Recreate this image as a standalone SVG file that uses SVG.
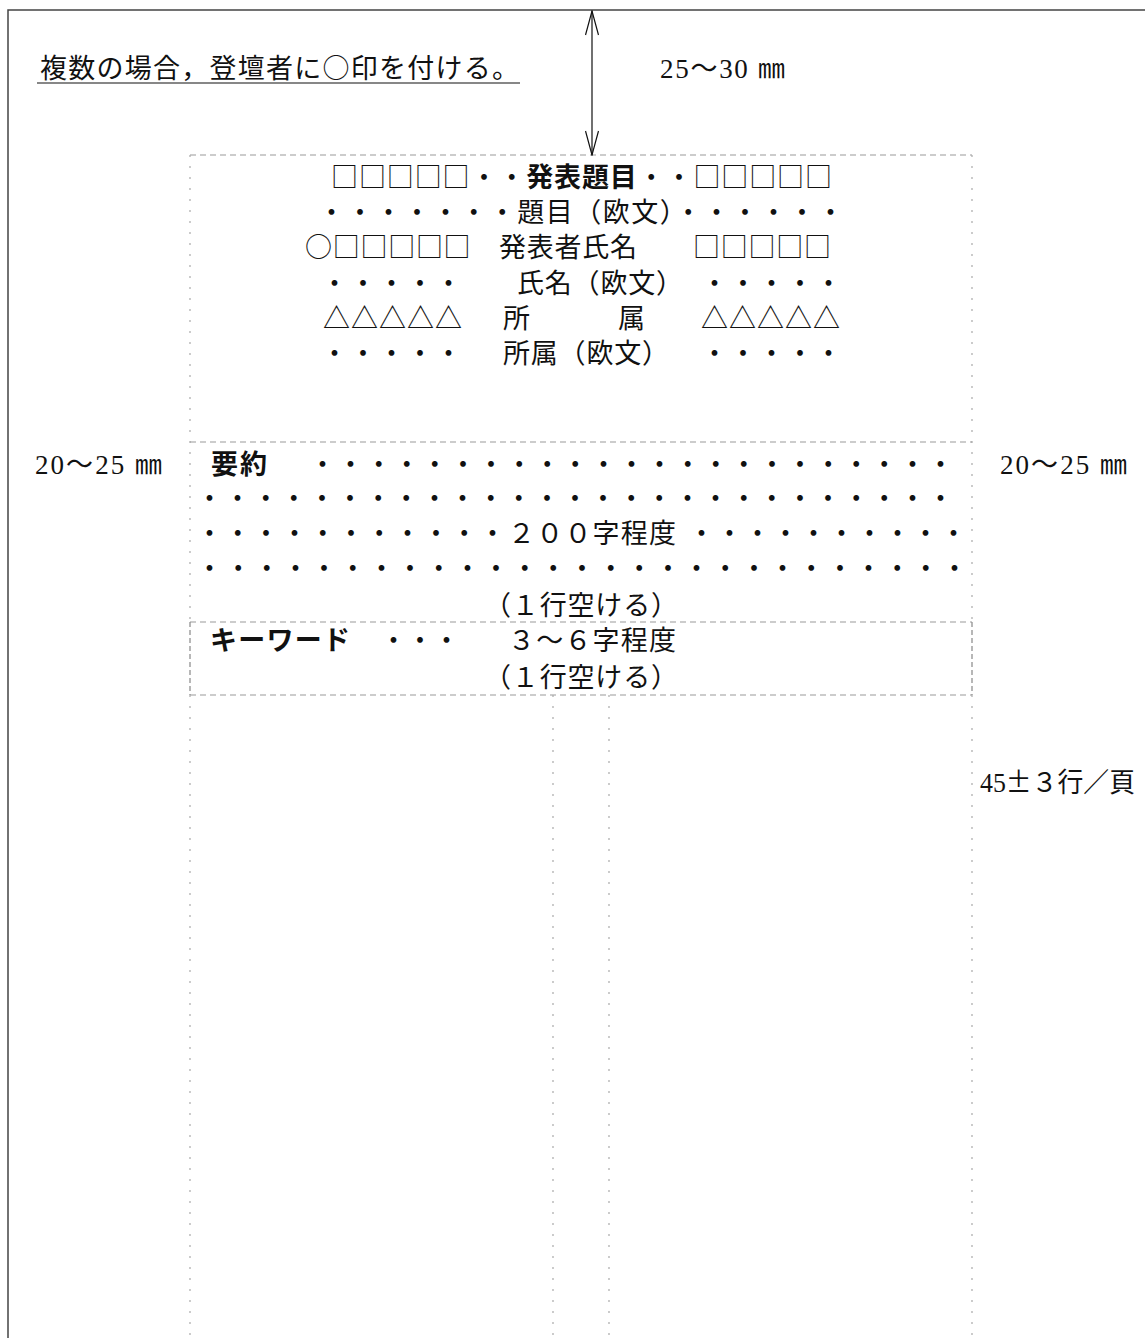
<svg xmlns="http://www.w3.org/2000/svg" width="1145" height="1338" viewBox="0 0 1145 1338">
<style>
.jp{font-family:"Noto Sans CJK JP","Noto Sans CJK SC",sans-serif;font-size:27px;fill:#111;}
.b{font-weight:bold;}
.ser{font-family:"Liberation Serif","Noto Sans CJK JP",serif;font-size:27px;fill:#111;}
.frame{stroke:#444;stroke-width:1.5;fill:none;}
.dash{stroke:#999;stroke-width:1;stroke-dasharray:6 4;fill:none;}
.dot{stroke:#aaa;stroke-width:1.2;stroke-dasharray:2 9;fill:none;}
.side{stroke:#888;stroke-width:1.2;stroke-dasharray:5 3;fill:none;}
</style>
<defs>
<marker id="v" viewBox="0 0 26 14" refX="25" refY="7" markerWidth="26" markerHeight="14" markerUnits="userSpaceOnUse" orient="auto-start-reverse">
<path d="M1,0.5 L25,7 L1,13.5" fill="none" stroke="#111" stroke-width="1.2"/>
</marker>
</defs>
<rect width="1145" height="1338" fill="#fff"/>
<g id="page-frame">
<path class="frame" d="M8,1338 L8,10 L1145,10"/>
</g>
<g id="layout-lines">
<line class="dash" x1="190" y1="155" x2="972" y2="155"/>
<line class="dot" x1="190" y1="155" x2="190" y2="622"/>
<line class="dot" x1="972" y1="155" x2="972" y2="622"/>
<line class="dash" x1="190" y1="442" x2="972" y2="442"/>
<line class="dash" x1="190" y1="622" x2="972" y2="622"/>
<line class="side" x1="190" y1="622" x2="190" y2="695"/>
<line class="side" x1="972" y1="622" x2="972" y2="695"/>
<line class="dash" x1="190" y1="695" x2="972" y2="695"/>
<line class="dot" x1="190" y1="695" x2="190" y2="1338"/>
<line class="dot" x1="972" y1="695" x2="972" y2="1338"/>
<line class="dot" x1="553" y1="695" x2="553" y2="1338"/>
<line class="dot" x1="609" y1="695" x2="609" y2="1338"/>
</g>
<g id="connectors">
<line x1="592" y1="11" x2="592" y2="155" stroke="#111" stroke-width="1.2" marker-start="url(#v)" marker-end="url(#v)"/>
</g>
<g id="note">
<text class="jp" x="40" y="78" textLength="479" lengthAdjust="spacing">複数の場合，登壇者に○印を付ける。</text>
<line x1="37" y1="83" x2="520" y2="83" stroke="#111" stroke-width="1.2"/>
</g>
<g id="top-margin-label">
<text class="ser" x="660" y="78" textLength="125" lengthAdjust="spacing">25〜30 ㎜</text>
</g>
<g id="title-block">
<text class="jp" x="331" y="187" textLength="501" lengthAdjust="spacing">□□□□□・・<tspan class="b">発表題目</tspan>・・□□□□□</text>
<text class="jp" x="318" y="222" textLength="526" lengthAdjust="spacing">・・・・・・・題目（欧文）・・・・・・</text>
<text class="jp" x="305" y="257" textLength="526" lengthAdjust="spacing">○□□□□□　発表者氏名　　□□□□□</text>
<text class="jp" x="321" y="293" textLength="141" lengthAdjust="spacing">・・・・・</text>
<text class="jp" x="517" y="293" textLength="166" lengthAdjust="spacing">氏名（欧文）</text>
<text class="jp" x="701" y="293" textLength="141" lengthAdjust="spacing">・・・・・</text>
<text class="jp" x="323" y="328" textLength="139" lengthAdjust="spacing">△△△△△</text>
<text class="jp" x="503" y="328">所</text>
<text class="jp" x="618" y="328">属</text>
<text class="jp" x="701" y="328" textLength="139" lengthAdjust="spacing">△△△△△</text>
<text class="jp" x="321" y="363" textLength="141" lengthAdjust="spacing">・・・・・</text>
<text class="jp" x="503" y="363" textLength="166" lengthAdjust="spacing">所属（欧文）</text>
<text class="jp" x="701" y="363" textLength="141" lengthAdjust="spacing">・・・・・</text>
</g>
<g id="side-margins">
<text class="ser" x="35" y="474" textLength="127" lengthAdjust="spacing">20〜25 ㎜</text>
<text class="ser" x="1000" y="474" textLength="127" lengthAdjust="spacing">20〜25 ㎜</text>
</g>
<g id="abstract">
<text class="jp b" x="211" y="474" textLength="56" lengthAdjust="spacing">要約</text>
<text class="jp" x="309" y="474" textLength="645" lengthAdjust="spacing">・・・・・・・・・・・・・・・・・・・・・・・</text>
<text class="jp" x="196" y="508" textLength="758" lengthAdjust="spacing">・・・・・・・・・・・・・・・・・・・・・・・・・・・</text>
<text class="jp" x="196" y="543" textLength="310" lengthAdjust="spacing">・・・・・・・・・・・</text>
<text class="jp" x="508" y="543" textLength="168" lengthAdjust="spacing">２００字程度</text>
<text class="jp" x="688" y="543" textLength="279" lengthAdjust="spacing">・・・・・・・・・・</text>
<text class="jp" x="196" y="578" textLength="772" lengthAdjust="spacing">・・・・・・・・・・・・・・・・・・・・・・・・・・・</text>
<text class="jp" x="484" y="615" textLength="194" lengthAdjust="spacing">（１行空ける）</text>
</g>
<g id="keywords">
<text class="jp b" x="210" y="650" textLength="140" lengthAdjust="spacing">キーワード</text>
<text class="jp" x="380" y="650" textLength="80" lengthAdjust="spacing">・・・</text>
<text class="jp" x="508" y="650" textLength="168" lengthAdjust="spacing">３〜６字程度</text>
<text class="jp" x="484" y="687" textLength="194" lengthAdjust="spacing">（１行空ける）</text>
</g>
<g id="lines-label">
<text class="ser" x="980" y="792" textLength="155" lengthAdjust="spacingAndGlyphs">45<tspan class="jp">±３行／頁</tspan></text>
</g>
</svg>
